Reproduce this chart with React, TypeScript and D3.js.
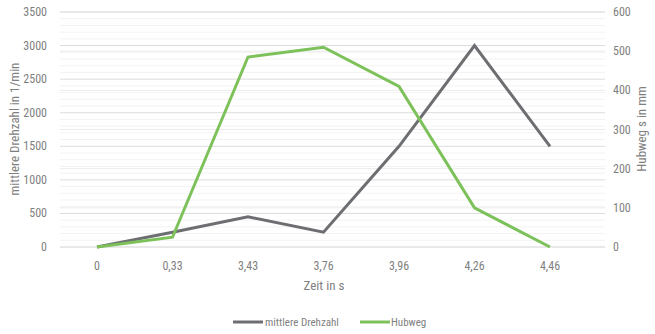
import React from "react";
import * as d3 from "d3";

const categories = ["0", "0,33", "3,43", "3,76", "3,96", "4,26", "4,46"];
const drehzahl = [0, 220, 450, 220, 1500, 3000, 1500];
const hubweg = [0, 25, 485, 510, 410, 100, 0];
const leftTicks = [0, 500, 1000, 1500, 2000, 2500, 3000, 3500];
const rightTicks = [0, 100, 200, 300, 400, 500, 600];

const W = 655;
const H = 334;
const FONT = "'Liberation Sans Narrow', 'Roboto Condensed', 'DejaVu Sans Condensed', sans-serif";
const TEXT = "#7f7f7f";
const GRAY = "#6d6e71";
const GREEN = "#7dc15a";

export default function App() {
  const x = d3.scalePoint<string>().domain(categories).range([97, 550]);
  const yL = d3.scaleLinear().domain([0, 3500]).range([247, 12]);
  const yR = d3.scaleLinear().domain([0, 600]).range([247, 12]);
  const gridX0 = 60;
  const gridX1 = 605;

  const lineL = d3
    .line<number>()
    .x((_, i) => x(categories[i]) as number)
    .y((d) => yL(d));
  const lineR = d3
    .line<number>()
    .x((_, i) => x(categories[i]) as number)
    .y((d) => yR(d));

  const minorL = d3.range(0, 3501, 100).filter((v) => v % 500 !== 0);

  return (
    <svg width={W} height={H} style={{ position: "absolute", left: 0, top: 0, background: "#fff" }}>
      <g>
        {minorL.map((v) => (
          <line key={"m" + v} x1={gridX0} x2={gridX1} y1={yL(v)} y2={yL(v)} stroke="#f3f3f3" strokeWidth={1} />
        ))}
        {rightTicks.map((v) => (
          <line key={"r" + v} x1={gridX0} x2={gridX1} y1={yR(v)} y2={yR(v)} stroke="#ebebeb" strokeWidth={1} />
        ))}
        {leftTicks.map((v) => (
          <line key={"l" + v} x1={gridX0} x2={gridX1} y1={yL(v)} y2={yL(v)} stroke="#dcdcdc" strokeWidth={1} />
        ))}
      </g>
      <g fontFamily={FONT} fontSize={12} fill={TEXT}>
        {leftTicks.map((v) => (
          <text key={"lt" + v} x={47} y={yL(v)} textAnchor="end" dominantBaseline="central">
            {v}
          </text>
        ))}
        {rightTicks.map((v) => (
          <text key={"rt" + v} x={613} y={yR(v)} textAnchor="start" dominantBaseline="central">
            {v}
          </text>
        ))}
        {categories.map((c) => (
          <text key={"c" + c} x={x(c)} y={266} textAnchor="middle" dominantBaseline="central">
            {c}
          </text>
        ))}
        <text x={324} y={285} textAnchor="middle" dominantBaseline="central" fontSize={13}>
          Zeit in s
        </text>
        <text
          transform={`translate(14,129) rotate(-90)`}
          textAnchor="middle"
          dominantBaseline="central"
          fontSize={13}
        >
          mittlere Drehzahl in 1/min
        </text>
        <text
          transform={`translate(641,129) rotate(-90)`}
          textAnchor="middle"
          dominantBaseline="central"
          fontSize={13}
        >
          Hubweg s in mm
        </text>
      </g>
      <path d={lineL(drehzahl) || ""} fill="none" stroke={GRAY} strokeWidth={3} strokeLinejoin="miter" />
      <path d={lineR(hubweg) || ""} fill="none" stroke={GREEN} strokeWidth={3} strokeLinejoin="miter" />
      <g fontFamily={FONT} fontSize={11} fill={TEXT}>
        <line x1={233} x2={263} y1={322} y2={322} stroke={GRAY} strokeWidth={3} />
        <text x={265} y={322} dominantBaseline="central">mittlere Drehzahl</text>
        <line x1={360} x2={390} y1={322} y2={322} stroke={GREEN} strokeWidth={3} />
        <text x={391} y={322} dominantBaseline="central">Hubweg</text>
      </g>
    </svg>
  );
}
